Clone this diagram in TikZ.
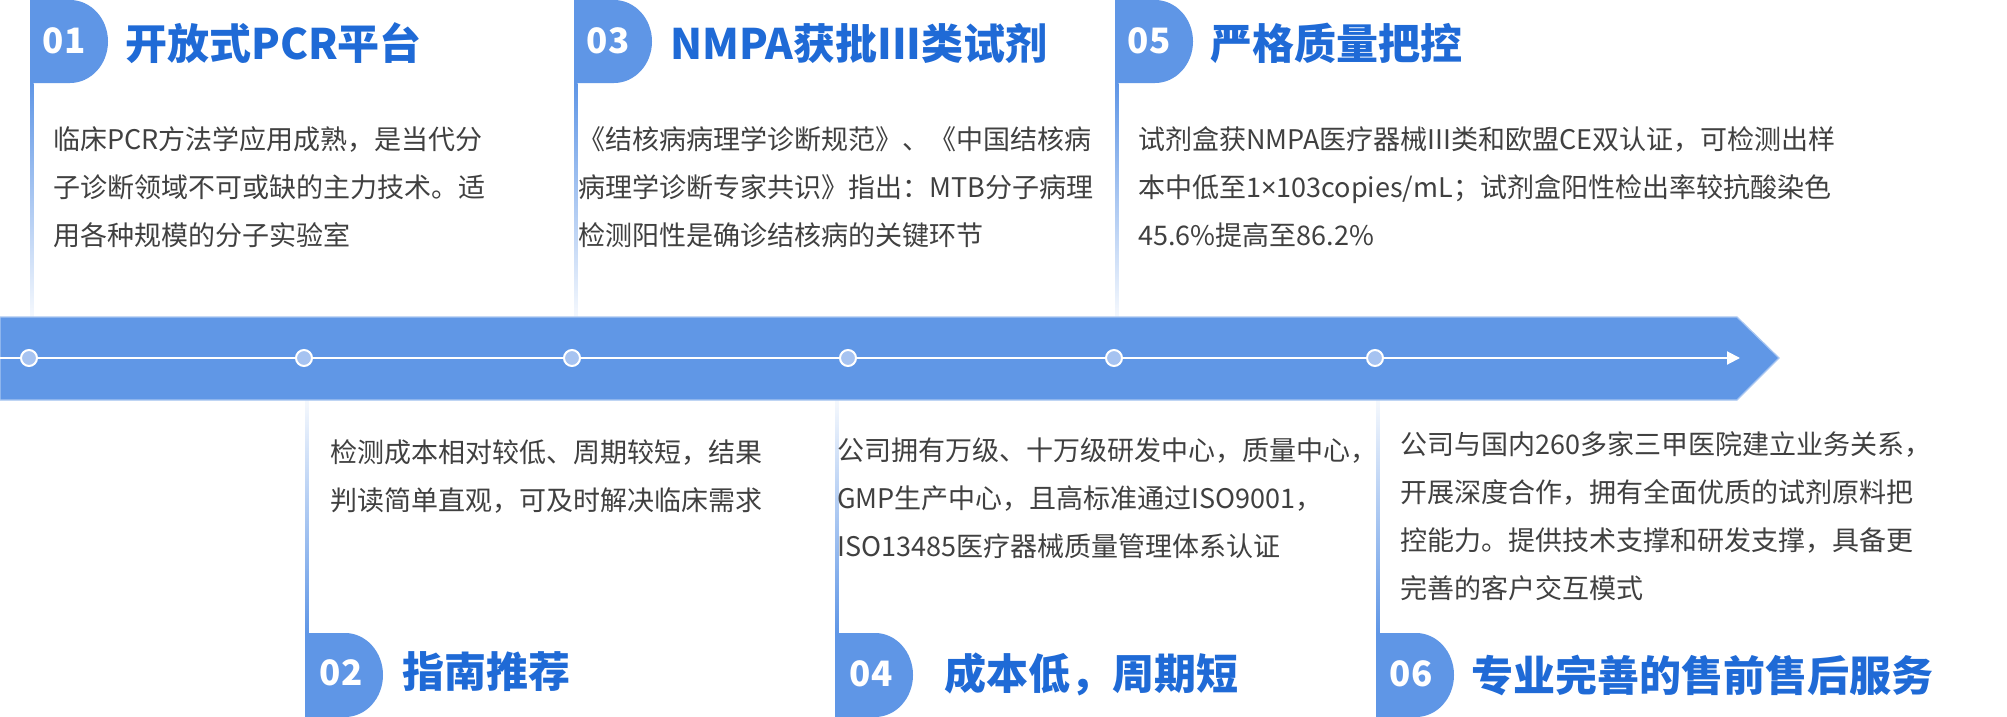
\documentclass[tikz,border=0pt]{standalone}
\usepackage{fontspec}
\setmainfont{Noto Sans CJK SC}
\newfontfamily\latinsans{Noto Sans}
\usetikzlibrary{arrows.meta,positioning}
\definecolor{barblue}{HTML}{6097E6}
\definecolor{tabblue}{HTML}{5F96E6}
\definecolor{dotblue}{HTML}{A6C3F1}
\definecolor{titleblue}{HTML}{1F6AD6}
\definecolor{bodygray}{HTML}{404040}

\begin{document}
\begin{tikzpicture}[x=1pt,y=-1pt,
			pestana/.style={fill=tabblue},
			numero/.style={text=white,font=\fontsize{35}{40}\selectfont\bfseries,inner sep=0pt},
			titulo/.style={text=titleblue,font=\fontsize{42}{48}\selectfont\bfseries,inner sep=0pt,anchor=west},
			texto/.style={text=bodygray,font=\fontsize{27}{48}\selectfont,inner sep=0pt,anchor=north west,align=left},
			punto/.style={circle,draw=white,line width=2pt,fill=dotblue,minimum size=16pt,inner sep=0pt},
			barra/.style={fill=barblue,draw=barblue!55!white,line width=1.2pt},
			linea/.style={draw=white,line width=2pt,-{Triangle[length=13pt,width=13pt]}}
			]
			\useasboundingbox (0,0) rectangle (2007,717);
			\fill[white] (0,0) rectangle (2007,717);
			% lineas de las tarjetas
			\shade[top color=tabblue,bottom color=tabblue!6] (30,83) rectangle (33.5,317);
			\shade[top color=tabblue,bottom color=tabblue!6] (574,83) rectangle (577.5,317);
			\shade[top color=tabblue,bottom color=tabblue!6] (1115,83) rectangle (1118.5,317);
			\shade[top color=tabblue!6,bottom color=tabblue] (305,400) rectangle (308.5,633);
			\shade[top color=tabblue!6,bottom color=tabblue] (835,400) rectangle (838.5,633);
			\shade[top color=tabblue!6,bottom color=tabblue] (1376,400) rectangle (1379.5,633);
			% pestanas
			\fill[pestana] (30,0) -- (70,0) arc[start angle=-90,end angle=90,x radius=38,y radius=41.5] -- (30,83) -- cycle;
			\fill[pestana] (574,0) -- (614,0) arc[start angle=-90,end angle=90,x radius=38,y radius=41.5] -- (574,83) -- cycle;
			\fill[pestana] (1115,0) -- (1155,0) arc[start angle=-90,end angle=90,x radius=38,y radius=41.5] -- (1115,83) -- cycle;
			\fill[pestana] (305,633) -- (345,633) arc[start angle=-90,end angle=90,x radius=38,y radius=42] -- (305,717) -- cycle;
			\fill[pestana] (835,633) -- (875,633) arc[start angle=-90,end angle=90,x radius=38,y radius=42] -- (835,717) -- cycle;
			\fill[pestana] (1376,633) -- (1416,633) arc[start angle=-90,end angle=90,x radius=38,y radius=42] -- (1376,717) -- cycle;
			\node[numero] (n01) at (64,41) {01};
			\node[numero] (n03) at (608,41) {03};
			\node[numero] (n05) at (1149,41) {05};
			\node[numero] (n02) at (341,673) {02};
			\node[numero] (n04) at (871,674) {04};
			\node[numero] (n06) at (1411,674) {06};
			% titulos
			\node[titulo] (t01) at (125,43) {开放式PCR平台};
			\node[titulo] (t03) at (670,43) {NMPA获批III类试剂};
			\node[titulo] (t05) at (1210,43) {严格质量把控};
			\node[titulo] (t02) at (402,672) {指南推荐};
			\node[titulo] (t04) at (944,674) {成本低，周期短};
			\node[titulo] (t06) at (1471,675) {专业完善的售前售后服务};
			% textos
			\node[texto] (x01) at (53,126) {临床PCR方法学应用成熟，是当代分\\子诊断领域不可或缺的主力技术。适\\用各种规模的分子实验室};
			\node[texto] (x03) at (578,126) {《结核病病理学诊断规范》、《中国结核病\\病理学诊断专家共识》指出：MTB分子病理\\检测阳性是确诊结核病的关键环节};
			\node[texto] (x05) at (1138,126) {试剂盒获NMPA医疗器械III类和欧盟CE双认证，可检测出样\\本中低至1{\latinsans ×}103copies/mL；试剂盒阳性检出率较抗酸染色\\45.6\%提高至86.2\%};
			\node[texto] (x02) at (330,439) {检测成本相对较低、周期较短，结果\\判读简单直观，可及时解决临床需求};
			\node[texto] (x04) at (837,438) {公司拥有万级、十万级研发中心，质量中心，\\GMP生产中心，且高标准通过ISO9001，\\ISO13485医疗器械质量管理体系认证};
			\node[texto] (x06) at (1400,431) {公司与国内260多家三甲医院建立业务关系，\\开展深度合作，拥有全面优质的试剂原料把\\控能力。提供技术支撑和研发支撑，具备更\\完善的客户交互模式};
			% barra y linea de tiempo
			\fill[barra] (0,317) -- (1737,317) -- (1779,358) -- (1737,400) -- (0,400) -- cycle;
			\coordinate (ini) at (0,358);
			\coordinate (fin) at (1740,358);
			\draw[linea] (ini) -- (fin);
			\node[punto] (p01) at (29,358) {};
			\node[punto] (p02) at (304,358) {};
			\node[punto] (p03) at (572,358) {};
			\node[punto] (p04) at (848,358) {};
			\node[punto] (p05) at (1114,358) {};
			\node[punto] (p06) at (1375,358) {};
		\end{tikzpicture}
\end{document}
